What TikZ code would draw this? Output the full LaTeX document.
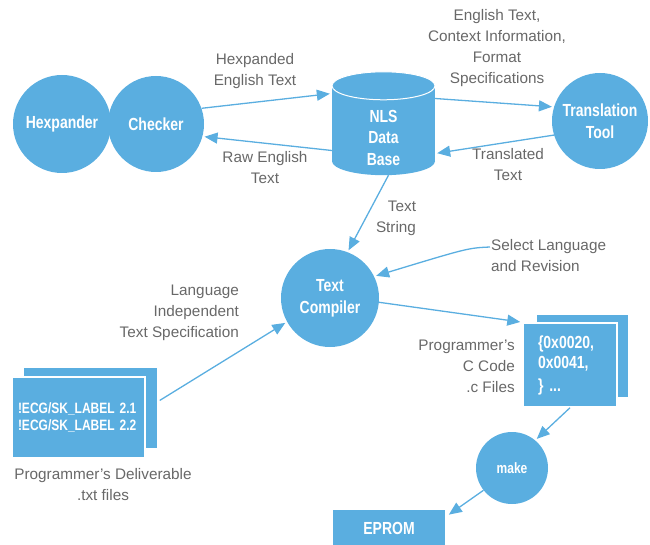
\documentclass[tikz,border=0pt]{standalone}
\usepackage{fontspec}
\setmainfont{Liberation Sans}
\newfontfamily\nodefont[FakeStretch=0.8]{Liberation Sans}
\usetikzlibrary{arrows.meta,calc,backgrounds}
\definecolor{hpblue}{HTML}{5AAEE0}
\definecolor{hpgray}{HTML}{686868}
\tikzset{
  >={Triangle[length=13pt,width=11pt]},
  % knoten
  proc/.style={circle,fill=hpblue,text=white,inner sep=0pt,align=center,
               font=\nodefont\bfseries\fontsize{17.5}{22}\selectfont},
  dbase/.style={rectangle,inner sep=0pt,minimum width=103pt,minimum height=75pt,
                text=white,align=center,font=\nodefont\bfseries\fontsize{17.5}{21.5}\selectfont},
  sheet/.style={rectangle,fill=hpblue,inner sep=0pt},
  sheetfront/.style={sheet,draw=white,line width=1.5pt,text=white,align=left,
                     font=\nodefont\bfseries\fontsize{15}{17}\selectfont},
  % texte und pfeile
  lbl/.style={text=hpgray,align=center,inner sep=1pt,
              font=\fontsize{15.3}{21}\selectfont},
  flow/.style={->,draw=hpblue,line width=1.3pt,shorten >=2pt},
}
\begin{document}
\begin{tikzpicture}[x=1pt,y=-1pt]
  \useasboundingbox (0,0) rectangle (650,545);
  \node[proc,minimum size=98pt] (hex) at (62,124) {Hexpander};
  \node[proc,minimum size=96pt] (chk) at (156,124) {Checker};
  \node[dbase] (db) at (383.5,137.5) {NLS\\Data\\Base};
  \begin{scope}[on background layer]
    \fill[hpblue] ($(db.north west)+(0,-14)$) rectangle ($(db.south east)+(0,-14)$);
    \fill[hpblue] ($(db.south)+(0,-14)$) ellipse [x radius=51.5,y radius=14];
    \filldraw[fill=hpblue,draw=white,line width=1pt] ($(db.north)+(0,-14)$) ellipse [x radius=51.5,y radius=14];
  \end{scope}
  \node[proc,minimum size=96pt] (tt) at (600,121) {Translation\\Tool};
  \node[proc,minimum size=98pt] (tc) at (330,298) {Text\\Compiler};
  \node[proc,minimum size=72pt,font=\nodefont\bfseries\fontsize{15}{18}\selectfont] (mk) at (512,468) {make};
  \node[sheet,minimum width=91pt,minimum height=82pt] (cb) at (582.5,356) {};
  \node[sheetfront,minimum width=94pt,minimum height=84pt,text width=64pt,
        font=\nodefont\bfseries\fontsize{17.5}{20}\selectfont] (cf) at (570,365)
        {\{0x0020,\\0x0041,\\[3pt]\} ...};
  \node[sheet,minimum width=133pt,minimum height=80pt] (txtb) at (90.5,408) {};
  \node[sheetfront,minimum width=133pt,minimum height=81pt,text width=121pt] (txtf) at (78.5,417.5)
        {!ECG/SK\_LABEL 2.1\\!ECG/SK\_LABEL 2.2};
  \node[sheet,minimum width=112pt,minimum height=36pt,text=white,
        font=\nodefont\bfseries\fontsize{17.5}{21}\selectfont] (ep) at (389,528) {EPROM};

  \node[lbl] (hexl) at (255,71) {Hexpanded\\English Text};
  \node[lbl] (rawl) at (265,168) {Raw English\\Text};
  \node[lbl] (ctxl) at (497,48) {English Text,\\Context Information,\\Format\\Specifications};
  \node[lbl] (trl) at (508,165) {Translated\\Text};
  \node[lbl,align=right] (strl) at (396,218) {Text\\String};
  \node[lbl,anchor=west,align=left] (sell) at (490,256) {Select Language\\and Revision};
  \node[lbl,anchor=east,align=right] (indl) at (240,313) {Language\\Independent\\Text Specification};
  \node[lbl,anchor=east,align=right] (ccl) at (516,366) {Programmer's\\C Code\\.c Files};
  \node[lbl] (dell) at (103,485) {Programmer's Deliverable\\.txt files};
  \coordinate (sel) at (490,247);

  \draw[flow] (chk.19) -- ($(db.west)+(0,-44)$);
  \draw[flow] ($(db.west)+(0,13)$) -- (chk.-15);
  \draw[flow] ($(db.east)+(0,-39)$) -- (tt.163);
  \draw[flow] (tt.197) -- ($(db.east)+(0,16)$);
  \draw[flow] ($(db.south)+(5,0)$) -- (tc.69);
  \draw[flow] (sel) .. controls (468,248) .. (tc.26);
  \draw[flow,shorten <=3pt] ($(txtb.east)+(0,-6)$) -- (tc.209);
  \draw[flow] (tc.-5) -- (cf.north west);
  \draw[flow] (cf.south) -- (mk.50);
  \draw[flow] (mk.218) -- ($(ep.north east)+(2,6)$);
\end{tikzpicture}
\end{document}
